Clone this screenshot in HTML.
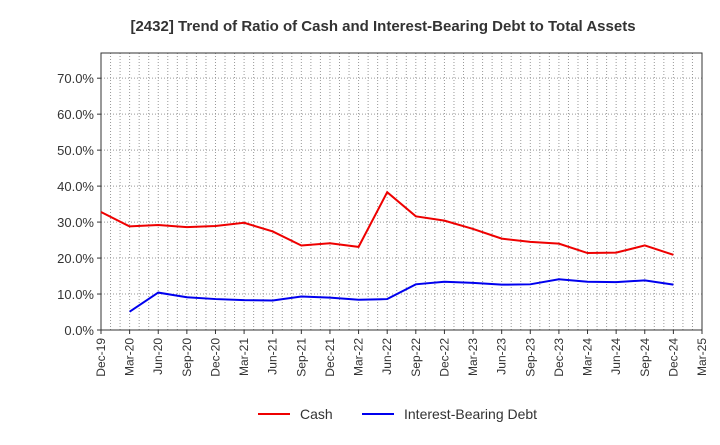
<!DOCTYPE html>
<html><head><meta charset="utf-8"><style>
body{margin:0;background:#fff;font-family:"Liberation Sans",sans-serif;}
svg text{font-family:"Liberation Sans",sans-serif;}
</style></head><body>
<svg width="720" height="440" xmlns="http://www.w3.org/2000/svg">
<text x="383" y="31" text-anchor="middle" font-size="15" font-weight="bold" fill="#333">[2432]  Trend of Ratio of Cash and Interest-Bearing Debt to Total Assets</text>
<g id="grid"></g>
<g id="axes"></g>
<g id="series"></g>
<g>
<line x1="258" y1="414" x2="290" y2="414" stroke="#e00" stroke-width="2"/>
<text x="300" y="419" font-size="14" fill="#333">Cash</text>
<line x1="362" y1="414" x2="394" y2="414" stroke="#00e" stroke-width="2"/>
<text x="404" y="419" font-size="14" fill="#333">Interest-Bearing Debt</text>
</g>
</svg>
<script>
const categories=["Dec-19","Mar-20","Jun-20","Sep-20","Dec-20","Mar-21","Jun-21","Sep-21","Dec-21","Mar-22","Jun-22","Sep-22","Dec-22","Mar-23","Jun-23","Sep-23","Dec-23","Mar-24","Jun-24","Sep-24","Dec-24","Mar-25"];
const cashValues=[32.8,28.8,29.2,28.6,28.9,29.8,27.4,23.5,24.1,23.1,38.3,31.6,30.4,28.1,25.4,24.5,24.0,21.4,21.5,23.5,20.9,null];
const debtValues=[null,5.1,10.4,9.1,8.6,8.3,8.2,9.3,9.0,8.4,8.6,12.7,13.4,13.1,12.6,12.7,14.1,13.4,13.3,13.8,12.6,null];
const yTicks=[0,10,20,30,40,50,60,70];
const L=101,R=702,T=53,B=330,yMax=77;
const NS="http://www.w3.org/2000/svg";
const xs=i=>L+(R-L)*i/(categories.length-1);
const ys=v=>B-(B-T)*v/yMax;
function mk(t,a,p){const e=document.createElementNS(NS,t);for(const k in a)e.setAttribute(k,a[k]);p.appendChild(e);return e;}
const g=document.getElementById('grid'),ax=document.getElementById('axes'),s=document.getElementById('series');
const months=(categories.length-1)*3;
for(let m=1;m<months;m++){const x=L+(R-L)*m/months;
const l=mk('line',{x1:x,x2:x,y1:T,y2:B,stroke:'#999','stroke-dasharray':'1,2','stroke-width':1},g);

}
yTicks.forEach(v=>{const y=ys(v);
if(v>0){const l=mk('line',{x1:L,x2:R,y1:y,y2:y,stroke:'#999','stroke-dasharray':'1,2'},g);

}
const t=mk('text',{x:L-7,y:y+5,'text-anchor':'end','font-size':13,fill:'#333'},ax);t.textContent=v.toFixed(1)+'%';


mk('line',{x1:L-4,x2:L,y1:y,y2:y,stroke:'#333'},ax);});
mk('rect',{x:L,y:T,width:R-L,height:B-T,fill:'none',stroke:'#333','stroke-width':1},ax);
categories.forEach((c,i)=>{const x=xs(i);
mk('line',{x1:x,x2:x,y1:B,y2:B+4,stroke:'#333'},ax);
const t=mk('text',{transform:`translate(${x+4},${B+8}) rotate(-90)`,'text-anchor':'end','font-size':12,fill:'#333'},ax);t.textContent=c;

});
function line(vals,color,name){let d='';vals.forEach((v,i)=>{if(v==null)return;d+=(d?'L':'M')+xs(i)+','+ys(v);});
const p=mk('path',{d:d,fill:'none',stroke:color,'stroke-width':2},s);

}
line(cashValues,'#e00','cash-line');
line(debtValues,'#00e','debt-line');
</script>
</body></html>
